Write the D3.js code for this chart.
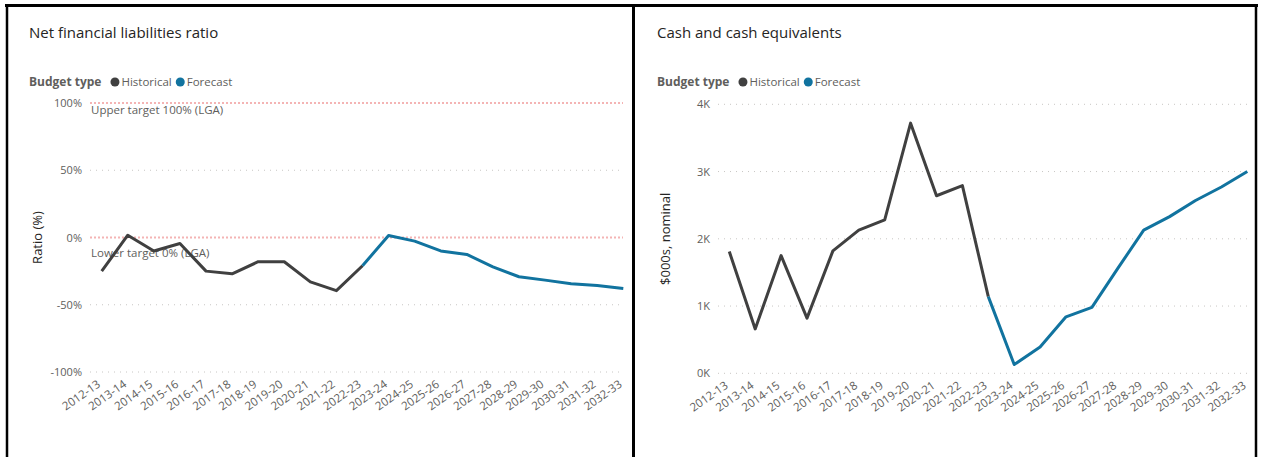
<!DOCTYPE html>
<html>
<head>
<meta charset="utf-8">
<script src="https://cdn.jsdelivr.net/npm/d3@7"></script>
<style>
  body { margin: 0; background: #fff; }
  svg { display: block; font-family: "Segoe UI", "Open Sans", sans-serif; }
</style>
</head>
<body>
<div id="chart"></div>
<script>
// financial years on the x axis
const categories = ['2012-13', '2013-14', '2014-15', '2015-16', '2016-17', '2017-18', '2018-19',
  '2019-20', '2020-21', '2021-22', '2022-23', '2023-24', '2024-25', '2025-26', '2026-27',
  '2027-28', '2028-29', '2029-30', '2030-31', '2031-32', '2032-33']
const historicalYears = categories.slice(0, 11)
const forecastYears = categories.slice(10)

// Net financial liabilities ratio (%)
const ratioHistorical = [-25, 1.7, -10, -4.5, -25, -27, -18, -18, -33, -39.5, -21]
const ratioForecast = [-21, 1.5, -2.7, -10, -12.6, -21.8, -29.2, -31.7, -34.4, -35.7, -37.9]
const ratioTicks = [-100, -50, 0, 50, 100]
const ratioTargets = [100, 0]
const ratioTargetLabels = ['Upper target 100% (LGA)', 'Lower target 0% (LGA)']

// Cash and cash equivalents ($000s)
const cashHistorical = [1810, 660, 1750, 820, 1820, 2130, 2280, 3720, 2640, 2790, 1140]
const cashForecast = [1140, 130, 390, 840, 980, 1560, 2130, 2330, 2570, 2770, 3000]
const cashTicks = [0, 1000, 2000, 3000, 4000]

const seriesNames = ['Historical', 'Forecast']
const colors = { Historical: '#404040', Forecast: '#11739f' }

const width = 1261
const height = 457

const svg = d3.select('#chart').append('svg')
  .attr('width', width)
  .attr('height', height)

function drawPanel(cfg) {
  const g = svg.append('g')

  const x = d3.scalePoint().domain(categories).range(cfg.xRange)
  const y = d3.scaleLinear().domain([cfg.ticks[0], cfg.ticks[cfg.ticks.length - 1]]).range(cfg.yRange)

  // title
  g.append('text')
    .attr('x', cfg.left)
    .attr('y', 38)
    .style('font-size', '15px')
    .style('fill', '#252423')
    .text(cfg.title)

  // legend
  const legend = g.append('g').attr('transform', `translate(${cfg.left},86)`)
  const lt = legend.append('text')
    .style('font-size', '12px')
    .style('font-weight', 'bold')
    .style('fill', '#605e5c')
    .text('Budget type')
  let lx = lt.node().getComputedTextLength() + 9
  seriesNames.forEach(name => {
    legend.append('circle')
      .attr('cx', lx + 4.5)
      .attr('cy', -4)
      .attr('r', 4.5)
      .attr('fill', colors[name])
    const t = legend.append('text')
      .attr('x', lx + 11)
      .style('font-size', '11.5px')
      .style('fill', '#605e5c')
      .text(name)
    lx += 11 + t.node().getComputedTextLength() + 4
  })

  // gridlines
  g.append('g').selectAll('line')
    .data(cfg.ticks.filter(t => !(cfg.targets || []).includes(t)))
    .join('line')
    .attr('x1', cfg.gridRange[0])
    .attr('x2', cfg.gridRange[1])
    .attr('y1', d => y(d))
    .attr('y2', d => y(d))
    .attr('stroke', '#c8c6c4')
    .attr('stroke-width', 1)
    .attr('stroke-dasharray', '1,5')

  // target lines
  if (cfg.targets) {
    const tg = g.append('g')
    tg.selectAll('line')
      .data(cfg.targets)
      .join('line')
      .attr('x1', cfg.gridRange[0])
      .attr('x2', cfg.gridRange[1] + 1)
      .attr('y1', d => y(d))
      .attr('y2', d => y(d))
      .attr('stroke', '#f4b4b4')
      .attr('stroke-width', 2)
      .attr('stroke-dasharray', '2,2')
    tg.selectAll('text')
      .data(cfg.targets)
      .join('text')
      .attr('x', cfg.gridRange[0] + 1)
      .attr('y', (d, i) => y(d) + cfg.targetOffsets[i])
      .style('font-size', '11.5px')
      .style('fill', '#605e5c')
      .text((d, i) => cfg.targetLabels[i])
  }

  // y axis labels
  const yAxis = g.append('g')
    .attr('transform', `translate(${cfg.tickX},0)`)
    .call(d3.axisLeft(y).tickValues(cfg.ticks).tickSize(0).tickPadding(0).tickFormat(cfg.format))
  yAxis.select('.domain').remove()
  yAxis.selectAll('text')
    .style('font-family', '"Segoe UI", "Open Sans", sans-serif')
    .style('font-size', '11px')
    .style('fill', '#605e5c')

  // y axis title
  g.append('text')
    .attr('transform', `translate(${cfg.yTitleX},${(cfg.yRange[0] + cfg.yRange[1]) / 2}) rotate(-90)`)
    .attr('text-anchor', 'middle')
    .style('font-size', '13px')
    .style('fill', '#252423')
    .text(cfg.yTitle)

  // x axis labels
  const xAxis = g.append('g')
    .attr('transform', `translate(0,${cfg.yRange[0]})`)
    .call(d3.axisBottom(x).tickSize(0).tickPadding(0))
  xAxis.select('.domain').remove()
  xAxis.selectAll('text')
    .attr('y', 0)
    .attr('dy', 0)
    .attr('transform', 'translate(-1,14) rotate(-35)')
    .attr('text-anchor', 'end')
    .style('font-family', '"Segoe UI", "Open Sans", sans-serif')
    .style('font-size', '11.5px')
    .style('fill', '#605e5c')

  // lines
  const line = d3.line()
    .x(d => x(d[0]))
    .y(d => y(d[1]))
  const series = [
    { name: 'Historical', years: historicalYears, values: cfg.historical },
    { name: 'Forecast', years: forecastYears, values: cfg.forecast }
  ]
  g.append('g').selectAll('path')
    .data(series)
    .join('path')
    .attr('d', s => line(s.years.map((yr, i) => [yr, s.values[i]])))
    .attr('fill', 'none')
    .attr('stroke', s => colors[s.name])
    .attr('stroke-width', 3)
    .attr('stroke-linejoin', 'round')
}

drawPanel({
  title: 'Net financial liabilities ratio',
  yTitle: 'Ratio (%)',
  left: 29,
  xRange: [101.7, 623.3],
  gridRange: [90, 622],
  yRange: [372, 103],
  ticks: ratioTicks,
  format: d => d + '%',
  tickX: 82,
  yTitleX: 41.5,
  historical: ratioHistorical,
  forecast: ratioForecast,
  targets: ratioTargets,
  targetLabels: ratioTargetLabels,
  targetOffsets: [11, 19]
})

drawPanel({
  title: 'Cash and cash equivalents',
  yTitle: '$000s, nominal',
  left: 657,
  xRange: [729.3, 1247.3],
  gridRange: [718, 1247],
  yRange: [373.3, 104.3],
  ticks: cashTicks,
  format: d => (d / 1000) + 'K',
  tickX: 710,
  yTitleX: 669.5,
  historical: cashHistorical,
  forecast: cashForecast
})

// panel borders
const borders = svg.append('g')
  .attr('stroke', '#000')
  .attr('fill', 'none')
borders.append('line').attr('x1', 5).attr('x2', 1258).attr('y1', 5.5).attr('y2', 5.5).attr('stroke-width', 3)
borders.append('line').attr('x1', 7).attr('x2', 7).attr('y1', 4).attr('y2', height).attr('stroke-width', 2.5)
borders.append('line').attr('x1', 633.5).attr('x2', 633.5).attr('y1', 4).attr('y2', height).attr('stroke-width', 3)
borders.append('line').attr('x1', 1256).attr('x2', 1256).attr('y1', 4).attr('y2', height).attr('stroke-width', 2.5)
</script>
</body>
</html>
